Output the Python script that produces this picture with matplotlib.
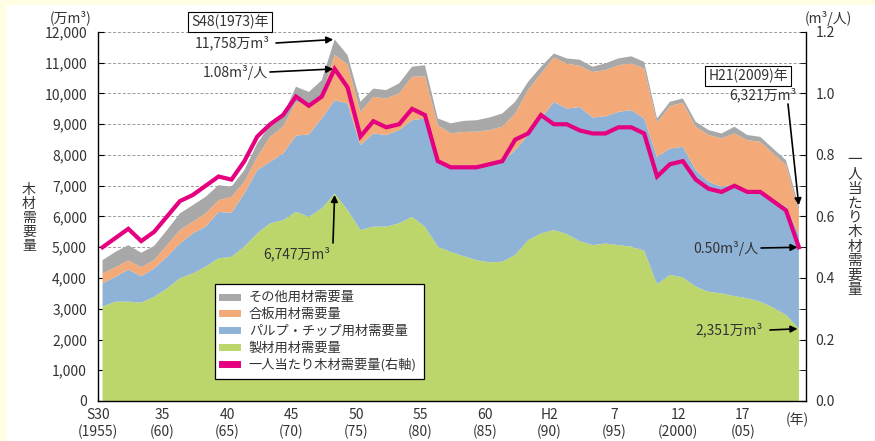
import numpy as np
import matplotlib
matplotlib.use("Agg")
import matplotlib.pyplot as plt
from matplotlib.lines import Line2D
from matplotlib.patches import Rectangle
from matplotlib.ticker import MultipleLocator, FuncFormatter

plt.rcParams['font.family'] = ['Noto Sans CJK JP', 'DejaVu Sans']

# data (万m3, m3/人)
years = list(range(1955, 2010))
sawn = [3070, 3230, 3230, 3200, 3390, 3660, 3990, 4150, 4370, 4640,
        4690, 5020, 5450, 5780, 5880, 6150, 5990, 6260, 6747, 6210,
        5560, 5670, 5670, 5780, 5990, 5670, 5020, 4850, 4710, 4580,
        4510, 4530, 4750, 5230, 5450, 5560, 5430, 5200, 5070, 5120,
        5070, 5020, 4890, 3800, 4100, 4020, 3720, 3550, 3500, 3410,
        3340, 3230, 3040, 2800, 2351]
pulp = [750, 810, 1040, 860, 920, 1030, 1135, 1300, 1300, 1510,
        1430, 1730, 2060, 2000, 2170, 2480, 2680, 2930, 3033, 3470,
        2760, 3030, 2980, 3030, 3140, 3520, 2760, 2820, 2960, 3040,
        3160, 3250, 3410, 3420, 3740, 4170, 4080, 4360, 4150, 4140,
        4330, 4440, 4300, 4140, 4110, 4250, 3790, 3580, 3470, 3640,
        3520, 3520, 3490, 3520, 3049]
plywood = [330, 310, 300, 290, 270, 380, 435, 380, 430, 380,
           520, 380, 430, 810, 870, 1100, 950, 760, 1470, 1270,
           1080, 1190, 1190, 1190, 1410, 1370, 1190, 1030, 1080, 1140,
           1140, 1140, 1190, 1460, 1460, 1440, 1460, 1340, 1480, 1500,
           1520, 1520, 1620, 1110, 1380, 1430, 1410, 1520, 1570, 1650,
           1620, 1680, 1520, 1350, 780]
other = [430, 500, 500, 470, 460, 490, 540, 540, 540, 490,
         330, 380, 440, 380, 380, 490, 430, 480, 508, 300,
         330, 270, 270, 330, 330, 360, 220, 330, 360, 370,
         410, 430, 380, 270, 220, 130, 170, 200, 170, 220,
         220, 230, 220, 140, 140, 140, 160, 160, 160, 220,
         170, 160, 160, 160, 141]
per_capita = [0.50, 0.53, 0.56, 0.52, 0.55, 0.60, 0.65, 0.67, 0.70, 0.73,
              0.72, 0.78, 0.86, 0.90, 0.93, 0.99, 0.96, 0.99, 1.08, 1.02,
              0.86, 0.91, 0.89, 0.90, 0.95, 0.93, 0.78, 0.76, 0.76, 0.76,
              0.77, 0.78, 0.85, 0.87, 0.93, 0.90, 0.90, 0.88, 0.87, 0.87,
              0.89, 0.89, 0.87, 0.73, 0.77, 0.78, 0.72, 0.69, 0.68, 0.70,
              0.68, 0.68, 0.65, 0.62, 0.50]

tick_years = [1955, 1960, 1965, 1970, 1975, 1980, 1985, 1990, 1995, 2000, 2005]
tick_labels = ['S30\n(1955)', '35\n(60)', '40\n(65)', '45\n(70)', '50\n(75)', '55\n(80)',
               '60\n(85)', 'H2\n(90)', '7\n(95)', '12\n(2000)', '17\n(05)']
series_labels = ['その他用材需要量', '合板用材需要量', 'パルプ・チップ用材需要量',
                 '製材用材需要量', '一人当たり木材需要量(右軸)']

c_other = '#a8a8a8'
c_plywood = '#f3aa78'
c_pulp = '#8fb3d6'
c_sawn = '#bcd66c'
c_line = '#e4007f'
txt = '#333333'

W, H = 875, 441
fig = plt.figure(figsize=(W / 100, H / 100), dpi=100)
fig.patch.set_facecolor('#fffde2')
fig.add_artist(Rectangle((6 / W, 0), 1, 1 - 5 / H, transform=fig.transFigure,
                         facecolor='white', edgecolor='none', zorder=0))

ax = fig.add_axes([98 / W, 1 - 401 / H, 708 / W, 369 / H])
ax.patch.set_alpha(0)
x = np.array(years) + 0.35

ax.stackplot(x, sawn, pulp, plywood, other,
             colors=[c_sawn, c_pulp, c_plywood, c_other], zorder=2)
ax.set_xlim(1955, 2009.9)
ax.set_ylim(0, 12000)
ax.yaxis.set_major_locator(MultipleLocator(1000))
ax.yaxis.set_major_formatter(FuncFormatter(lambda v, p: f'{int(v):,}'))
ax.set_xticks(tick_years)
ax.set_xticklabels(tick_labels, linespacing=1.2)
ax.tick_params(direction='in', length=4, colors='black', labelcolor=txt, labelsize=10)
ax.tick_params(axis='y', pad=8)
ax.tick_params(axis='x', pad=5)
ax.grid(axis='y', linestyle=(0, (3, 2)), color='#9a9a9a', lw=0.7, zorder=0)
ax.get_ygridlines()[-1].set_visible(False)
ax.get_ygridlines()[0].set_visible(False)
for s in ['top', 'right']:
    ax.spines[s].set_visible(False)
for s in ['left', 'bottom']:
    ax.spines[s].set_linewidth(1.0)

ax2 = ax.twinx()
ax2.plot(x, per_capita, color=c_line, lw=3, solid_joinstyle='miter', zorder=5)
ax2.set_ylim(0, 1.2)
ax2.yaxis.set_major_locator(MultipleLocator(0.2))
ax2.yaxis.set_minor_locator(MultipleLocator(0.1))
ax2.yaxis.set_major_formatter(FuncFormatter(lambda v, p: f'{v:.1f}'))
ax2.tick_params(axis='y', which='both', direction='in', length=4, pad=7,
                labelsize=10, labelcolor=txt)
ax2.spines['top'].set_visible(False)
ax2.spines['left'].set_visible(False)
ax2.spines['bottom'].set_visible(False)
ax2.spines['right'].set_linewidth(1.0)

# unit / axis labels
def ftext(px, py, s, **kw):
    kw.setdefault('color', txt)
    kw.setdefault('fontsize', 10)
    return fig.text(px / W, 1 - py / H, s, **kw)

ftext(71, 18, '(万m³)', ha='center', va='center')
ftext(828, 19, '(m³/人)', ha='center', va='center')
ftext(797, 420, '(年)', ha='center', va='center')
ftext(29, 218, '\n'.join('木材需要量'), ha='center', va='center', linespacing=1.0)
ftext(855, 225, '\n'.join('一人当たり木材需要量'), ha='center', va='center',
      linespacing=1.05, fontsize=10.5)

box = dict(boxstyle='square,pad=0.2', fc='white', ec='black', lw=0.8)
ftext(230, 22, 'S48(1973)年', ha='center', va='center', bbox=box)
ftext(748, 76, 'H21(2009)年', ha='center', va='center', bbox=box)
ftext(270, 43, '11,758万m³', ha='right', va='center')
ftext(268, 72, '1.08m³/人', ha='right', va='center')
ftext(297, 254, '6,747万m³', ha='center', va='center')
ftext(797, 95, '6,321万m³', ha='right', va='center')
ftext(758, 248, '0.50m³/人', ha='right', va='center')
ftext(763, 330, '2,351万m³', ha='right', va='center')

arrow = dict(arrowstyle='-|>', color='black', lw=1.2, mutation_scale=10,
             shrinkA=0, shrinkB=1)
i73 = years.index(1973)
i09 = years.index(2009)
ax2.annotate('', xy=(x[i73], 11758), xycoords=ax.transData,
             xytext=(276, H - 43), textcoords='figure pixels', arrowprops=arrow)
ax2.annotate('', xy=(x[i73], per_capita[i73]),
             xytext=(270, H - 72), textcoords='figure pixels', arrowprops=arrow)
ax2.annotate('', xy=(x[i73], sawn[i73]), xycoords=ax.transData,
             xytext=(333, H - 243), textcoords='figure pixels', arrowprops=arrow)
ax2.annotate('', xy=(x[i09], 6321), xycoords=ax.transData,
             xytext=(788, H - 104), textcoords='figure pixels', arrowprops=arrow)
ax2.annotate('', xy=(x[i09], per_capita[i09]),
             xytext=(761, H - 248), textcoords='figure pixels', arrowprops=arrow)
ax2.annotate('', xy=(x[i09], sawn[i09]), xycoords=ax.transData,
             xytext=(770, H - 330), textcoords='figure pixels', arrowprops=arrow)

handles = [Line2D([], [], color=c, lw=5) for c in [c_other, c_plywood, c_pulp, c_sawn, c_line]]
leg = ax2.legend(handles, series_labels, loc='upper left',
                 bbox_to_anchor=(215 / W, 1 - 284 / H), bbox_transform=fig.transFigure,
                 borderaxespad=0, fontsize=9.5, handlelength=1.1, handletextpad=0.9,
                 labelspacing=0.28, borderpad=0.55, fancybox=False, framealpha=1,
                 edgecolor='black')
leg.get_frame().set_linewidth(0.9)
for t in leg.get_texts():
    t.set_color(txt)

fig.savefig('out.png', dpi=100, facecolor=fig.get_facecolor())
